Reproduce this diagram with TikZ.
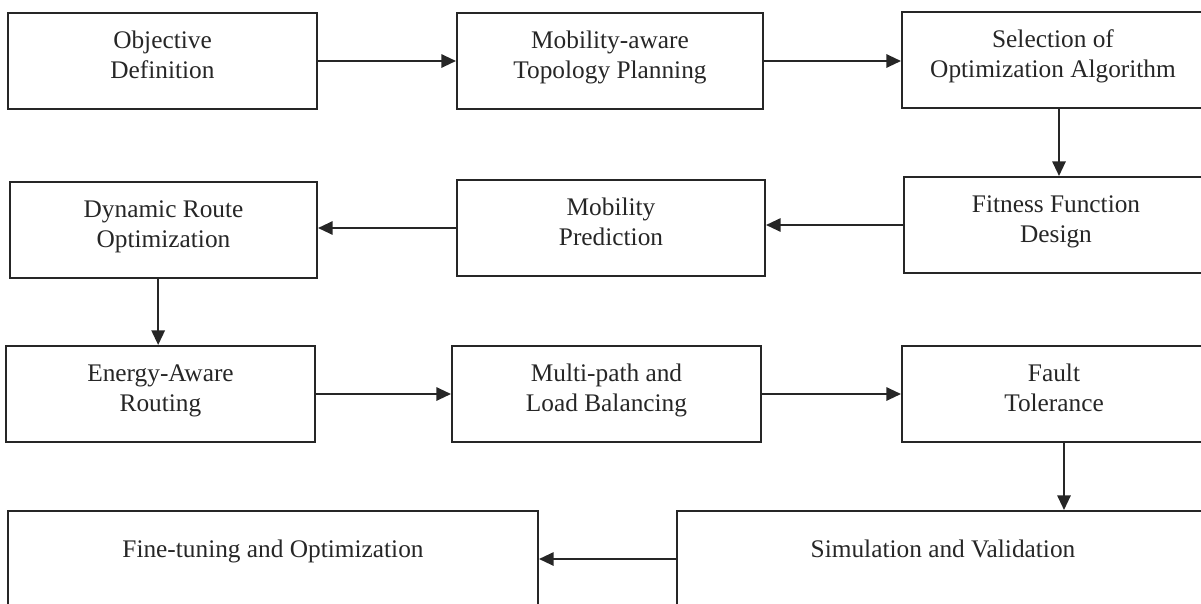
\documentclass[tikz,border=0pt]{standalone}
\usepackage{fontspec}
\setmainfont{Liberation Serif}
\usetikzlibrary{arrows.meta}
\definecolor{ink}{HTML}{262626}

\begin{document}
\begin{tikzpicture}[x=0.75pt,y=-0.75pt,>={Triangle[length=11pt,width=10pt]},
    box/.style={draw=ink,line width=1.5pt,text=ink,align=center,inner sep=0pt,
        minimum height=72pt,font=\fontsize{19}{22.5}\selectfont,
        text height=36pt,text depth=10.5pt},
    wide/.style={box,text height=12pt,text depth=15pt},
    flow/.style={->,draw=ink,line width=1.5pt}]
    \useasboundingbox (0,0) rectangle (1201,603);
    \clip (0,0) rectangle (1201,603);
    % row 1
    \node[box,minimum width=231.75pt] (objdef) at (162.5,61) {Objective\\Definition};
    \node[box,minimum width=229.5pt] (topo) at (610,61) {Mobility-aware\\Topology Planning};
    \node[box,minimum width=226.5pt] (algo) at (1053,60) {Selection of\\Optimization Algorithm};
    % row 2
    \node[box,minimum width=228pt] (fitness) at (1056,225) {Fitness Function\\Design};
    \node[box,minimum width=231pt] (predict) at (611,228) {Mobility\\Prediction};
    \node[box,minimum width=230.25pt] (route) at (163.5,230) {Dynamic Route\\Optimization};
    % row 3
    \node[box,minimum width=231.75pt] (energy) at (160.5,394) {Energy-Aware\\Routing};
    \node[box,minimum width=231.75pt] (multi) at (606.5,394) {Multi-path and\\Load Balancing};
    \node[box,minimum width=228pt] (fault) at (1054,394) {Fault\\Tolerance};
    % row 4
    \node[wide,minimum width=397.5pt] (tune) at (273,559) {Fine-tuning and Optimization};
    \node[wide,minimum width=399pt] (sim) at (943,559) {Simulation and Validation};

    \draw[flow] (objdef.east) -- (objdef.east -| topo.west);
    \draw[flow] (topo.east) -- (topo.east -| algo.west);
    \draw[flow] ([xshift=4.5pt]algo.south) -- ([xshift=4.5pt]algo.south |- fitness.north);
    \draw[flow] (fitness.west) -- (fitness.west -| predict.east);
    \draw[flow] (predict.west) -- (predict.west -| route.east);
    \draw[flow] ([xshift=-4pt]route.south) -- ([xshift=-4pt]route.south |- energy.north);
    \draw[flow] (energy.east) -- (energy.east -| multi.west);
    \draw[flow] (multi.east) -- (multi.east -| fault.west);
    \draw[flow] ([xshift=7.5pt]fault.south) -- ([xshift=7.5pt]fault.south |- sim.north);
    \draw[flow] (sim.west) -- (sim.west -| tune.east);
\end{tikzpicture}
\end{document}
